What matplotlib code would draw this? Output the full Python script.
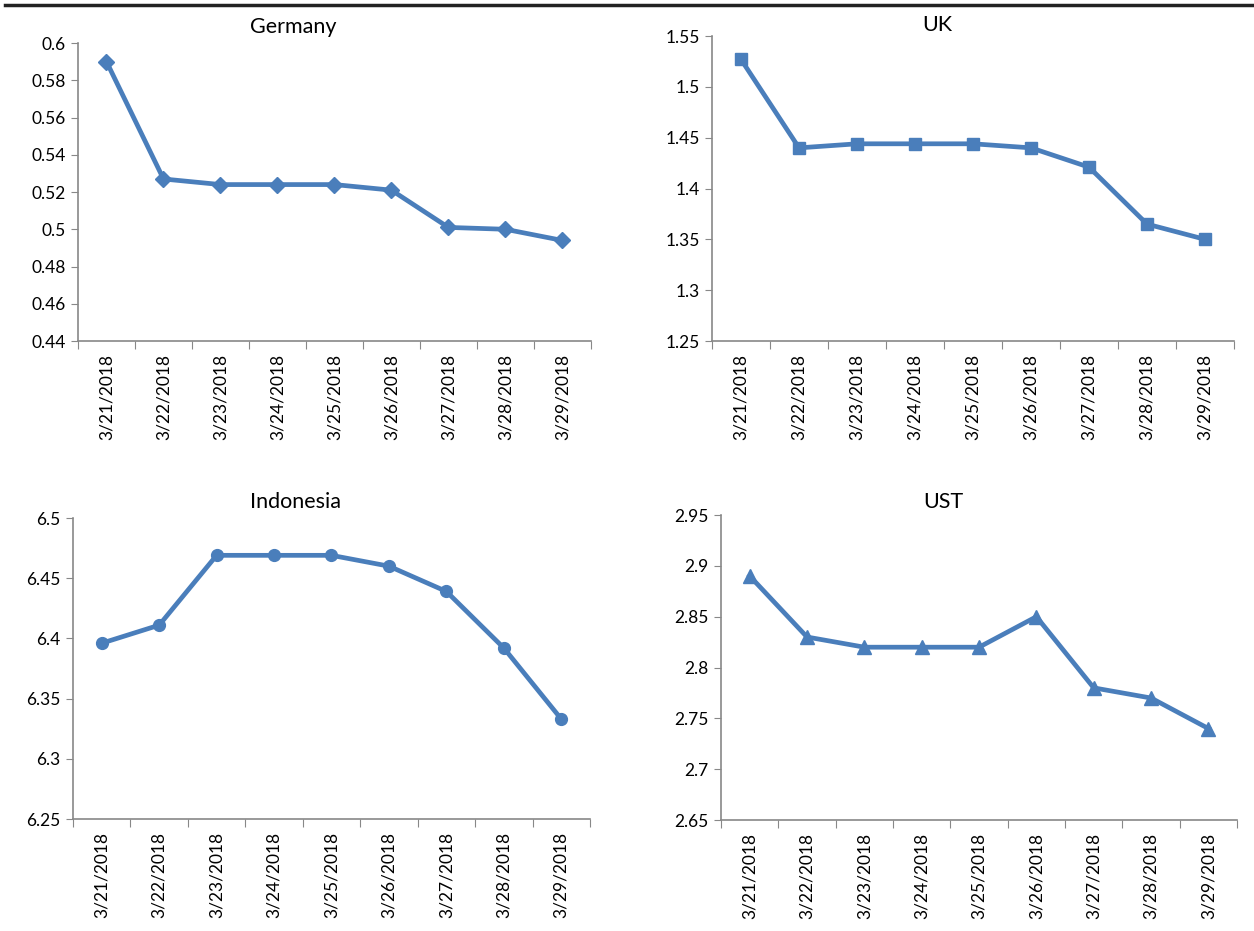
import matplotlib.pyplot as plt
from matplotlib.lines import Line2D
from matplotlib.ticker import FixedLocator, FuncFormatter, MultipleLocator

plt.rcParams['font.family'] = ['Lato', 'DejaVu Sans']

dates = ['3/21/2018', '3/22/2018', '3/23/2018', '3/24/2018', '3/25/2018',
         '3/26/2018', '3/27/2018', '3/28/2018', '3/29/2018']

germany = [0.590, 0.527, 0.524, 0.524, 0.524, 0.521, 0.501, 0.500, 0.494]
uk = [1.527, 1.440, 1.444, 1.444, 1.444, 1.440, 1.421, 1.365, 1.350]
indonesia = [6.396, 6.411, 6.469, 6.469, 6.469, 6.460, 6.439, 6.392, 6.333]
ust = [2.890, 2.830, 2.820, 2.820, 2.820, 2.850, 2.780, 2.770, 2.740]

blue = '#4a7ebb'

# name, values, marker, ylim, ystep, axes rect, title position (px), marker size
panels = [
    ('Germany', germany, 'D', (0.44, 0.6), 0.02, [0.0622, 0.6337, 0.409, 0.3201], (293, 27), 8.5),
    ('UK', uk, 's', (1.25, 1.55), 0.05, [0.5678, 0.6337, 0.4163, 0.3276], (937, 25), 8.5),
    ('Indonesia', indonesia, 'o', (6.25, 6.5), 0.05, [0.0582, 0.1203, 0.4123, 0.3233], (295, 502), 8.5),
    ('UST', ust, '^', (2.65, 2.95), 0.05, [0.575, 0.1192, 0.4115, 0.3276], (943, 502), 10),
]

fig = plt.figure(figsize=(12.54, 9.31), dpi=100)

for name, vals, mk, ylim, step, rect, tpos, msize in panels:
    ax = fig.add_axes(rect)
    x = list(range(len(dates)))
    ax.plot(x, vals, color=blue, lw=3.4, marker=mk, ms=msize,
            markerfacecolor=blue, markeredgecolor=blue, clip_on=False)
    ax.set_xlim(-0.5, len(dates) - 0.5)
    ax.set_ylim(*ylim)
    ax.yaxis.set_major_locator(MultipleLocator(step))
    ax.yaxis.set_major_formatter(FuncFormatter(lambda v, p: f'{round(v, 4):g}'))
    # excel style: ticks between categories, labels at centres
    ax.xaxis.set_major_locator(FixedLocator([i - 0.5 for i in range(len(dates) + 1)]))
    ax.xaxis.set_major_formatter(FuncFormatter(lambda v, p: ''))
    ax.xaxis.set_minor_locator(FixedLocator(x))
    ax.set_xticklabels(dates, minor=True, rotation=90)
    ax.tick_params(axis='x', which='minor', length=0, pad=9, labelsize=12.5)
    ax.tick_params(axis='x', which='major', length=6, color='#888888', direction='out')
    ax.tick_params(axis='y', length=5, color='#888888', labelsize=12.5, pad=4)
    for s in ['top', 'right']:
        ax.spines[s].set_visible(False)
    for s in ['left', 'bottom']:
        ax.spines[s].set_color('#888888')
        ax.spines[s].set_linewidth(1.2)
    fig.text(tpos[0] / 1254, 1 - tpos[1] / 931, name, ha='center', va='center', fontsize=15.5)

fig.add_artist(Line2D([5 / 1254, 1.0], [1 - 5 / 931, 1 - 5 / 931], color='#222222', lw=2.5))

fig.savefig('out.png', dpi=100)
